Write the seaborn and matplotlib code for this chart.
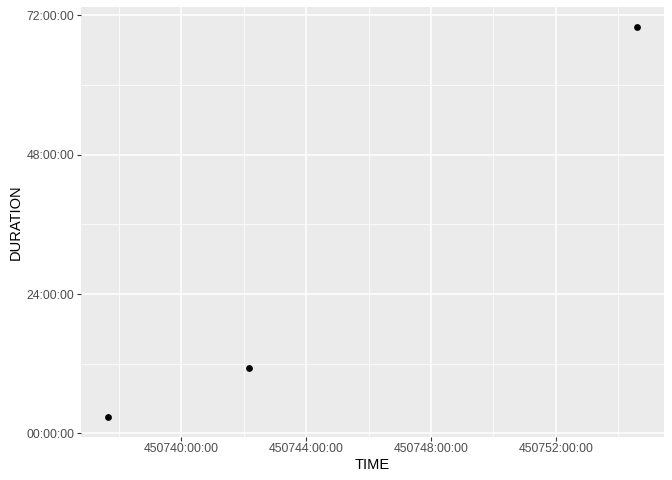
import numpy as np
import pandas as pd
import matplotlib
matplotlib.use("Agg")
import matplotlib.pyplot as plt
from matplotlib.ticker import MultipleLocator, FuncFormatter
import seaborn as sns

# data: time and duration, both in hours
time_h = [450737.63, 450742.16, 450754.62]
duration_h = [2.76, 11.27, 70.05]

df = pd.DataFrame({"TIME": time_h, "DURATION": duration_h})

sns.set_theme(style="darkgrid")
plt.rcParams["font.family"] = ["Liberation Sans", "DejaVu Sans"]

fig = plt.figure(figsize=(6.72, 4.8), dpi=100)
ax = fig.add_axes([81 / 672, 43 / 480, 583 / 672, 430 / 480])
ax.set_facecolor("#EBEBEB")

sns.scatterplot(data=df, x="TIME", y="DURATION", ax=ax, color="black",
                s=24, linewidth=0, zorder=3)

# ggplot-like expansion
xr = max(time_h) - min(time_h)
yr = max(duration_h) - min(duration_h)
ax.set_xlim(min(time_h) - 0.05 * xr, max(time_h) + 0.05 * xr)
ax.set_ylim(min(duration_h) - 0.05 * yr, max(duration_h) + 0.05 * yr)

fmt = FuncFormatter(lambda v, p: f"{int(round(v)):02d}:00:00")
ax.xaxis.set_major_locator(MultipleLocator(4))
ax.xaxis.set_minor_locator(MultipleLocator(2))
ax.yaxis.set_major_locator(MultipleLocator(24))
ax.yaxis.set_minor_locator(MultipleLocator(12))
ax.xaxis.set_major_formatter(fmt)
ax.yaxis.set_major_formatter(fmt)

ax.grid(which="major", color="white", linewidth=1.1)
ax.grid(which="minor", color="white", linewidth=0.55)
ax.set_axisbelow(True)
for sp in ax.spines.values():
    sp.set_visible(False)

ax.tick_params(which="major", length=2.6, width=0.8, color="#333333",
               labelsize=8.8, labelcolor="#4D4D4D", pad=2, bottom=True, left=True)
ax.tick_params(which="minor", length=0)

ax.set_xlabel("TIME", fontsize=10.56, color="black", labelpad=2)
ax.set_ylabel("DURATION", fontsize=10.56, color="black", labelpad=3)

fig.savefig("out.png", dpi=100, facecolor="white")
